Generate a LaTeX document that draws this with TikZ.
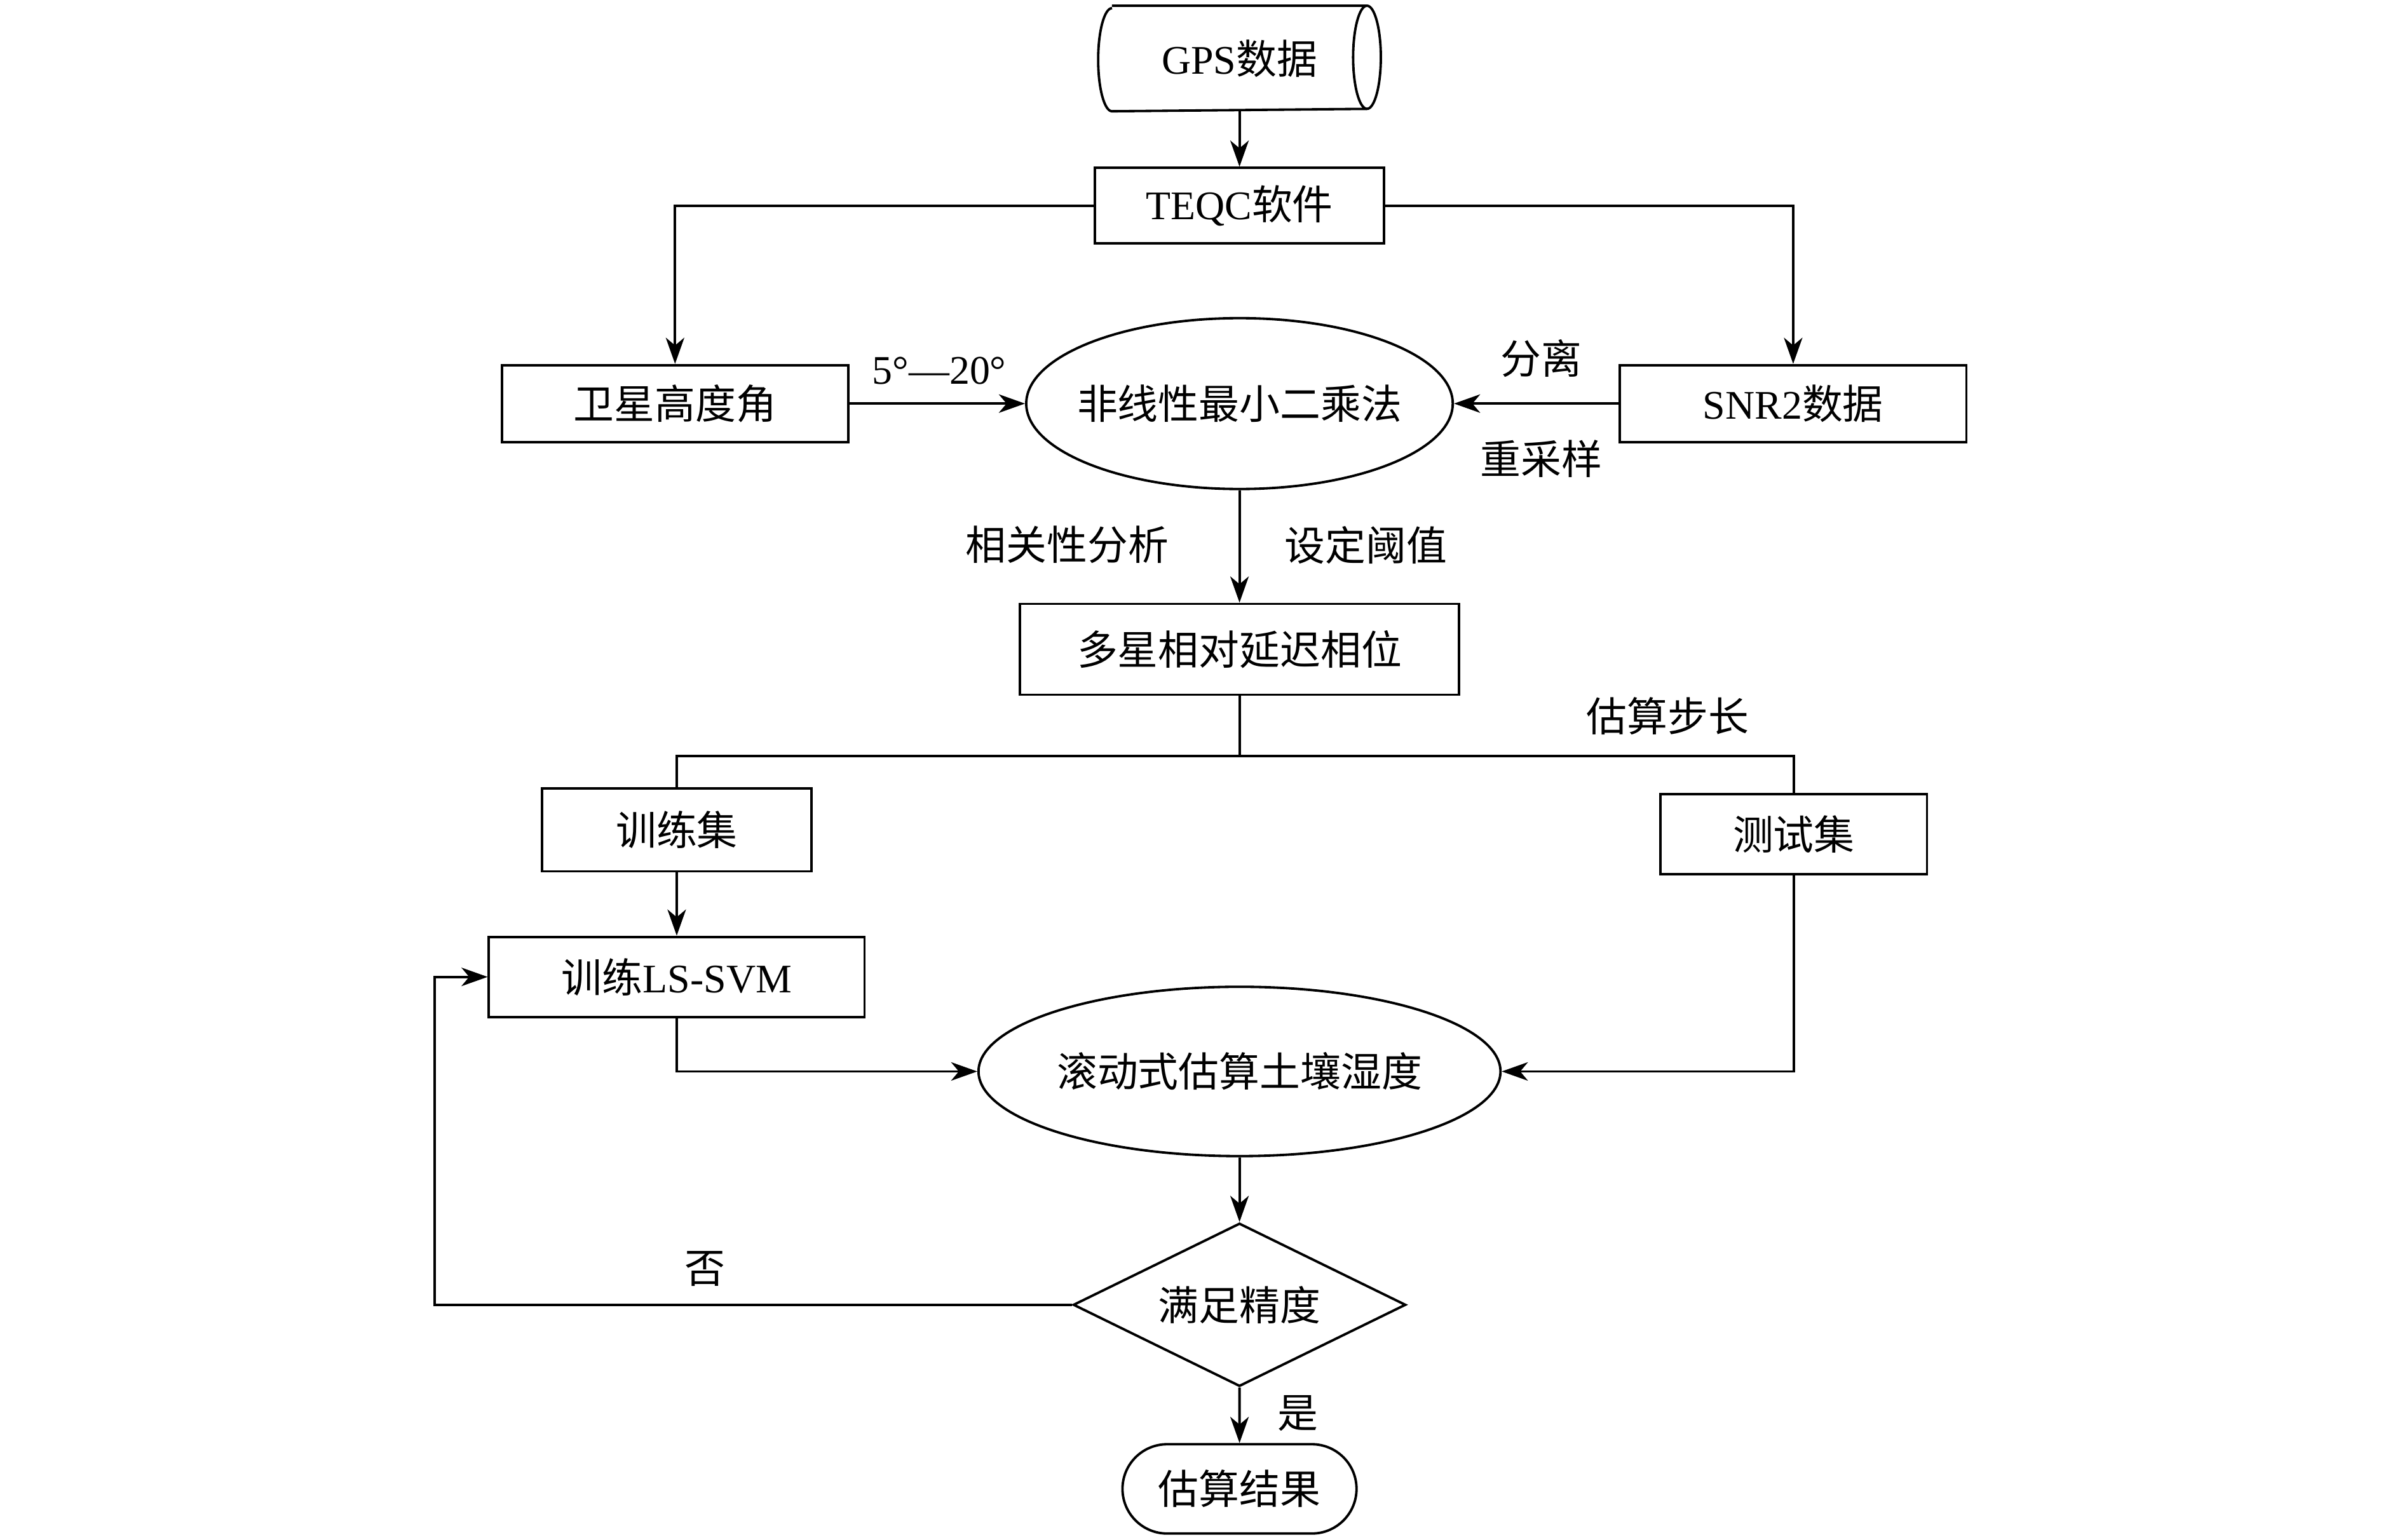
\documentclass[tikz,border=0pt]{standalone}
\usepackage{fontspec}
\setmainfont{Liberation Serif}
\newfontfamily\cjk{Noto Sans CJK SC}
\newcommand{\zh}[1]{{\cjk #1}}
\usetikzlibrary{shapes.geometric,shapes.misc,arrows.meta,calc,positioning}

\begin{document}
\begin{tikzpicture}[
  node distance=1cm,
  line width=0.9pt,
  >={Stealth[length=3.4mm,width=2.4mm,inset=1mm]},
  every node/.style={font=\fontsize{15}{18}\selectfont, inner sep=0pt},
  procbox/.style={rectangle, draw, minimum height=1cm},
  calcell/.style={ellipse, draw, minimum height=2.2cm},
  edgetext/.style={anchor=center}
]
  \useasboundingbox (0,0) rectangle (31.2,-20);

  % main column
  \node (gps) [rectangle, minimum width=3.28cm, minimum height=1.34cm] at (16.1,-0.76) {GPS\zh{数据}};
  \draw (gps.north west) -- (gps.north east)
    arc[start angle=90, end angle=-90, x radius=0.18cm, y radius=0.67cm]
    -- (gps.south west)
    arc[start angle=270, end angle=90, x radius=0.18cm, y radius=0.67cm];
  \draw (gps.north east) arc[start angle=90, end angle=270, x radius=0.18cm, y radius=0.67cm];
  \node (teqc) [procbox, below=0.72cm of gps, minimum width=3.76cm, minimum height=0.98cm] {TEQC\zh{软件}};
  \node (nls) [calcell, below=0.94cm of teqc, inner xsep=-1.6mm, minimum width=5.54cm, minimum height=2.22cm] {\zh{非线性最小二乘法}};
  \node (angle) [procbox, left=2.28cm of nls, minimum width=4.5cm] {\zh{卫星高度角}};
  \node (snr) [procbox, right=2.14cm of nls, minimum width=4.5cm] {SNR2\zh{数据}};
  \node (delay) [procbox, below=1.46cm of nls, minimum width=5.7cm, minimum height=1.18cm] {\zh{多星相对延迟相位}};

  % training and testing
  \node (trainset) [procbox, minimum width=3.5cm, minimum height=1.08cm] at (8.79,-10.78) {\zh{训练集}};
  \node (testset) [procbox, minimum width=3.46cm, minimum height=1.04cm] at (23.3,-10.84) {\zh{测试集}};
  \node (svm) [procbox, below=0.82cm of trainset, minimum width=4.88cm, minimum height=1.04cm] {\zh{训练}LS-SVM};
  \node (roll) [calcell, minimum width=6.78cm] at (16.1,-13.92) {\zh{滚动式估算土壤湿度}};
  \node (check) [diamond, draw, aspect=2.04, minimum width=4.32cm, minimum height=2.12cm, below=0.84cm of roll] {\zh{满足精度}};
  \node (result) [rounded rectangle, draw, minimum width=3.04cm, minimum height=1.16cm, below=0.72cm of check] {\zh{估算结果}};

  \coordinate (fork) at ($(delay.south)+(0,-0.78)$);
  \coordinate (loop) at ($(check.west)+(-8.28,0)$);

  % texts on connectors
  \node (range) [edgetext] at (12.2,-4.82) {5°—20°};
  \node (sep) [edgetext] at (20.02,-4.66) {\zh{分离}};
  \node (resample) [edgetext] at (20.02,-5.96) {\zh{重采样}};
  \node (corr) [edgetext] at (13.86,-7.08) {\zh{相关性分析}};
  \node (thresh) [edgetext] at (17.74,-7.08) {\zh{设定阈值}};
  \node (stepsize) [edgetext] at (21.66,-9.3) {\zh{估算步长}};
  \node (no) [edgetext] at (9.16,-16.48) {\zh{否}};
  \node (yes) [edgetext] at (16.86,-18.36) {\zh{是}};

  \draw[->] (gps.south) -- (teqc.north);
  \draw[->] (teqc.west) -| (angle.north);
  \draw[->] (teqc.east) -| (snr.north);
  \draw[->] (angle.east) -- (nls.west);
  \draw[->] (snr.west) -- (nls.east);
  \draw[->] (nls) -- (delay);
  \draw (delay.south) -- (fork);
  \draw (trainset.north) |- (fork) -| (testset.north);
  \draw[->] (trainset) -- (svm);
  \draw[->] (svm.south) |- (roll.west);
  \draw[->] (testset.south) |- (roll.east);
  \draw[->] (roll) -- (check);
  \draw[->] (check.west) -- (loop) |- (svm.west);
  \draw[->] (check) -- (result);
\end{tikzpicture}
\end{document}
